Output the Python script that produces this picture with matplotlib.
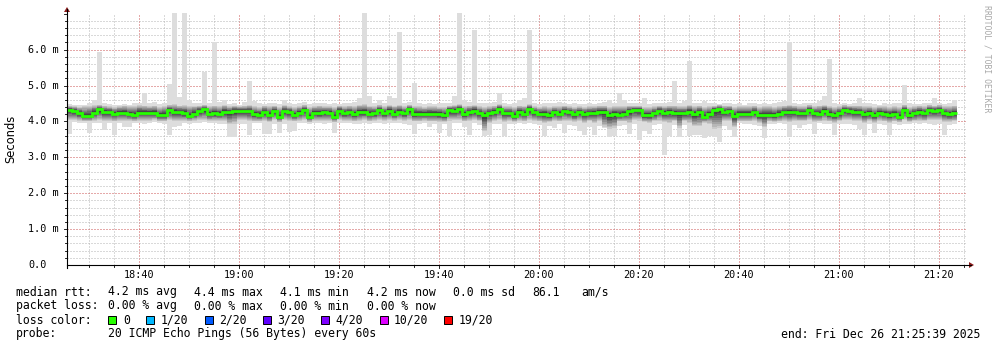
import numpy as np
import matplotlib
matplotlib.use("Agg")
import matplotlib.pyplot as plt
from matplotlib.patches import Rectangle, Polygon
from matplotlib.lines import Line2D
import matplotlib.transforms as mtrans

plt.rcParams['lines.scale_dashes'] = False

# ---------------- data (ms), one bin per minute starting 18:25:39 ----------------
T0 = 25.65          # minutes after 18:00  (18:25:39)
T_END = 205.65      # 21:25:39
Y_TOP = 7.02

rtt_median = [
 4.32,4.30,4.23,4.15,4.15,4.24,4.34,4.27,4.27,4.21,4.24,4.24,4.20,4.18,4.24,4.24,4.24,4.24,4.17,4.17,4.32,4.26,4.26,4.23,4.16,4.21,
 4.30,4.34,4.20,4.23,4.21,4.27,4.26,4.30,4.30,4.28,4.28,4.20,4.18,4.26,4.18,4.29,4.13,4.29,4.27,4.17,4.24,4.32,4.12,4.24,4.23,4.25,
 4.24,4.13,4.30,4.23,4.25,4.20,4.26,4.26,4.21,4.23,4.32,4.23,4.30,4.21,4.27,4.23,4.34,4.20,4.21,4.21,4.22,4.21,4.21,4.17,4.32,
 4.30,4.35,4.20,4.26,4.30,4.23,4.17,4.23,4.27,4.35,4.23,4.23,4.15,4.27,4.21,4.35,4.26,4.21,4.21,4.17,4.25,4.21,4.29,4.25,4.20,4.25,
 4.21,4.23,4.24,4.27,4.27,4.17,4.21,4.17,4.21,4.29,4.32,4.32,4.17,4.17,4.23,4.30,4.24,4.27,4.23,4.23,4.23,4.27,4.21,4.26,4.13,4.20,
 4.32,4.34,4.26,4.29,4.15,4.21,4.21,4.21,4.26,4.17,4.19,4.19,4.17,4.22,4.26,4.26,4.26,4.23,4.23,4.32,4.23,4.22,4.30,4.20,4.17,4.23,
 4.32,4.30,4.27,4.25,4.20,4.24,4.17,4.24,4.21,4.18,4.21,4.13,4.32,4.17,4.23,4.27,4.23,4.32,4.30,4.32,4.23,4.20,4.23]

rtt_max = [
 4.48,4.47,4.45,4.46,4.52,4.60,5.93,4.50,4.48,4.45,4.46,4.48,4.47,4.50,4.52,4.78,4.50,4.55,4.48,4.50,5.05,7.10,4.68,7.10,4.60,4.50,
 4.50,5.39,4.52,6.20,4.55,4.60,4.48,4.50,4.47,4.55,5.13,4.58,4.50,4.48,4.52,4.50,4.48,4.60,4.50,4.48,4.52,4.55,4.48,4.50,4.52,4.50,
 4.48,4.50,4.48,4.50,4.52,4.55,4.64,7.10,4.71,4.52,4.60,4.50,4.72,4.64,6.49,4.50,4.55,5.08,4.50,4.48,4.50,4.48,4.52,4.50,4.52,
 4.71,7.10,4.60,4.55,6.55,4.50,4.52,4.50,4.55,4.80,4.50,4.48,4.50,4.60,4.65,6.55,4.50,4.48,4.50,4.50,4.52,4.55,4.50,4.48,4.50,4.48,
 4.48,4.50,4.48,4.52,4.55,4.60,4.50,4.80,4.60,4.52,4.50,4.50,4.64,4.48,4.50,4.52,4.50,4.55,5.13,4.50,4.58,5.68,4.50,4.52,4.56,4.50,
 4.50,4.48,4.52,4.50,4.48,4.50,4.46,4.50,4.52,4.48,4.50,4.48,4.50,4.55,4.58,6.20,4.50,4.48,4.50,4.52,4.50,4.58,4.71,5.74,4.50,4.48,
 4.50,4.48,4.52,4.64,4.50,4.50,4.48,4.46,4.50,4.48,4.50,4.52,5.02,4.50,4.48,4.48,4.50,4.52,4.64,4.50,4.48,4.50,4.60]

rtt_min = [
 3.65,3.97,3.96,3.95,3.67,3.95,3.95,3.76,3.96,3.61,3.95,3.84,3.84,3.96,3.95,3.93,3.96,3.97,3.95,3.93,3.61,3.85,3.88,3.95,3.92,3.95,
 3.95,3.97,3.96,3.95,3.93,3.92,3.56,3.56,3.93,3.92,3.61,3.95,3.95,3.65,3.65,3.92,3.67,3.94,3.70,3.72,3.95,3.96,3.94,3.95,3.95,3.93,
 3.95,3.67,3.95,3.96,3.95,3.94,3.93,3.95,3.92,3.95,3.95,3.93,3.95,3.96,3.95,3.94,3.90,3.64,3.93,3.95,3.85,3.92,3.67,3.92,3.60,
 3.95,3.96,3.85,3.62,3.95,3.90,3.59,3.62,3.92,3.93,3.59,3.94,3.92,3.95,3.93,3.95,3.92,3.90,3.59,3.88,3.81,3.92,3.67,3.90,3.88,3.73,
 3.62,3.85,3.61,3.88,3.81,3.57,3.59,3.88,3.90,3.65,3.92,3.48,3.73,3.65,3.90,3.92,3.06,3.59,3.90,3.57,3.90,3.59,3.62,3.62,3.55,3.59,
 3.56,3.43,3.88,3.76,3.57,3.95,3.92,3.93,3.90,3.88,3.55,3.92,3.93,3.95,3.92,3.59,3.90,3.83,3.90,3.93,3.65,3.95,3.92,3.93,3.62,3.92,
 3.92,3.93,3.90,3.78,3.62,3.92,3.67,3.93,3.90,3.61,3.92,3.90,3.92,3.93,3.95,3.93,3.95,3.92,3.90,3.92,3.62,3.90,3.92]

# inner smoke envelope (roughly 2nd/3rd fastest and slowest pings)
rtt_inner_hi = [
 4.44,4.42,4.40,4.42,4.44,4.46,4.46,4.44,4.42,4.40,4.42,4.44,4.42,4.44,4.46,4.44,4.42,4.44,4.40,4.42,4.46,4.48,4.44,4.46,4.42,4.44,
 4.44,4.46,4.42,4.44,4.42,4.46,4.42,4.44,4.42,4.44,4.46,4.42,4.40,4.44,4.42,4.44,4.40,4.46,4.42,4.40,4.42,4.46,4.40,4.42,4.44,4.42,
 4.42,4.40,4.44,4.42,4.44,4.42,4.46,4.48,4.44,4.42,4.46,4.42,4.46,4.44,4.46,4.42,4.46,4.44,4.42,4.40,4.42,4.42,4.40,4.40,4.44,
 4.46,4.48,4.42,4.44,4.46,4.42,4.40,4.42,4.44,4.48,4.42,4.42,4.40,4.44,4.44,4.48,4.42,4.40,4.42,4.40,4.42,4.42,4.44,4.42,4.40,4.42,
 4.40,4.42,4.42,4.44,4.44,4.40,4.42,4.42,4.42,4.44,4.44,4.44,4.40,4.40,4.42,4.44,4.42,4.44,4.44,4.42,4.42,4.46,4.42,4.44,4.40,4.42,
 4.44,4.46,4.44,4.44,4.40,4.42,4.42,4.42,4.44,4.40,4.42,4.42,4.40,4.42,4.44,4.46,4.44,4.42,4.42,4.46,4.42,4.44,4.46,4.44,4.40,4.42,
 4.46,4.44,4.44,4.44,4.42,4.42,4.40,4.42,4.42,4.40,4.42,4.40,4.46,4.40,4.42,4.44,4.42,4.46,4.44,4.46,4.42,4.42,4.44]

rtt_inner_lo = [
 4.04,4.04,4.02,4.00,4.00,4.02,4.04,4.02,4.02,4.00,4.02,4.02,4.02,4.00,4.02,4.02,4.02,4.04,4.00,4.00,4.04,4.02,4.02,4.02,4.00,4.02,
 4.04,4.04,4.02,4.02,4.02,4.02,3.92,3.94,4.04,4.04,4.02,4.00,4.00,4.02,3.98,4.04,3.98,4.04,4.02,4.00,4.02,4.04,3.98,4.02,4.02,4.02,
 4.02,3.98,4.04,4.02,4.02,4.00,4.02,4.04,4.00,4.02,4.04,4.02,4.04,4.02,4.04,4.02,4.04,4.00,4.00,4.02,4.00,4.00,3.98,3.98,4.02,
 4.04,4.04,4.00,4.00,4.04,4.00,3.72,3.96,4.02,4.04,3.98,4.02,3.98,4.02,4.00,4.04,4.02,4.00,3.96,3.98,4.00,4.00,4.02,4.00,3.98,4.00,
 3.96,4.00,3.96,4.00,3.84,3.80,3.82,4.00,4.00,3.96,4.04,4.02,3.98,3.96,4.00,4.02,3.98,3.96,4.00,3.82,4.00,3.96,3.86,3.86,3.96,3.94,
 3.80,3.82,4.02,4.00,3.84,4.00,4.00,4.00,4.02,3.96,3.84,4.00,3.98,4.00,4.02,3.98,4.02,4.00,4.00,4.04,3.98,4.00,4.02,4.00,3.96,4.00,
 4.04,4.04,4.02,4.00,3.96,4.00,3.96,4.02,4.00,3.96,4.00,3.98,4.04,3.98,4.00,4.02,4.00,4.04,4.04,4.04,3.98,3.98,4.00]

x_tick_labels = ['18:40', '19:00', '19:20', '19:40', '20:00', '20:20', '20:40', '21:00', '21:20']
y_tick_values = [0, 1, 2, 3, 4, 5, 6]
y_tick_labels = ['0.0', '1.0 m', '2.0 m', '3.0 m', '4.0 m', '5.0 m', '6.0 m']

loss_labels = ['0', '1/20', '2/20', '3/20', '4/20', '10/20', '19/20']
loss_colors = ['#26ff00', '#00b8ff', '#0059ff', '#5e00ff', '#7e00ff', '#dd00ff', '#ff0000']

# ---------------- figure ----------------
W, H = 997, 347
fig = plt.figure(figsize=(W / 100, H / 100), dpi=100)
fig.patch.set_facecolor('white')

def fx(px):
    return px / W

def fy(py):
    return 1 - py / H

AX_L, AX_R, AX_T, AX_B = 67, 967, 13, 265
ax = fig.add_axes([fx(AX_L), fy(AX_B), fx(AX_R) - fx(AX_L), fy(AX_T) - fy(AX_B)])
ax.set_xlim(T0, T_END)
ax.set_ylim(0, Y_TOP)
ax.axis('off')

MONO = 'DejaVu Sans Mono'

# grid (dotted: 1px on, 2px off)
dots = (0, (0.72, 1.44))
minor_col = '#b4b4b4'
major_col = '#cc5555'
x_major = [int(s[:2]) * 60 + int(s[3:]) - 18 * 60 for s in x_tick_labels]
for m in range(30, 206, 5):
    if m not in x_major:
        ax.axvline(m, color=minor_col, lw=0.72, ls=dots, zorder=1)
for m in x_major:
    ax.axvline(m, color=major_col, lw=0.72, ls=dots, zorder=1)
for k in range(1, 36):
    v = k * 0.2
    if k % 5 != 0:
        ax.axhline(v, color=minor_col, lw=0.72, ls=dots, zorder=1)
for v in y_tick_values[1:]:
    ax.axhline(v, color=major_col, lw=0.72, ls=dots, zorder=1)

# smoke
med = np.array(rtt_median)
mx = np.array(rtt_max)
mn = np.array(rtt_min)
ihi = np.maximum(np.array(rtt_inner_hi), med)
ilo = np.minimum(np.array(rtt_inner_lo), med)
n = len(med)
xe = T0 + np.arange(n + 1)

def st(a):
    return np.append(a, a[-1])

grays = [221 - 19 * i for i in range(10)]
def g(v):
    return '#%02x%02x%02x' % (v, v, v)

ax.fill_between(xe, st(np.minimum(mn, ilo)), st(np.maximum(mx, ihi)), step='post',
                color=g(grays[0]), lw=0, zorder=2)
for i in range(1, 10):
    f = (i - 1) / 9.0
    lo = ilo + (med - ilo) * f
    hi = ihi - (ihi - med) * f
    ax.fill_between(xe, st(lo), st(hi), step='post', color=g(grays[i]), lw=0, zorder=2 + i * 0.01)

ax.plot(xe, st(med), drawstyle='steps-post', color='#26ff00', lw=2.0, zorder=5,
        solid_capstyle='butt', solid_joinstyle='miter')

# axes lines & arrows
axis_col = '#000000'
fig.add_artist(Line2D([fx(AX_L), fx(971)], [fy(AX_B), fy(AX_B)], color=axis_col, lw=0.8))
fig.add_artist(Line2D([fx(AX_L), fx(AX_L)], [fy(AX_B + 3), fy(9)], color=axis_col, lw=0.8))
arrow_col = '#8b1a1a'
fig.add_artist(Polygon([(fx(969), fy(AX_B - 3)), (fx(969), fy(AX_B + 3)), (fx(974), fy(AX_B))],
                       closed=True, color=arrow_col, lw=0))
fig.add_artist(Polygon([(fx(AX_L - 3), fy(12)), (fx(AX_L + 3), fy(12)), (fx(AX_L), fy(7))],
                       closed=True, color=arrow_col, lw=0))

# ticks
tx = mtrans.blended_transform_factory(ax.transData, fig.transFigure)
ty = mtrans.blended_transform_factory(fig.transFigure, ax.transData)
for m in range(30, 206, 5):
    ln = 3 if m in x_major else 2
    fig.add_artist(Line2D([m, m], [fy(AX_B), fy(AX_B + ln)], transform=tx, color=axis_col, lw=0.6))
for k in range(1, 36):
    v = k * 0.2
    ln = 3 if k % 5 == 0 else 2
    fig.add_artist(Line2D([fx(AX_L - ln), fx(AX_L)], [v, v], transform=ty, color=axis_col, lw=0.6))

# tick labels
for m, lab in zip(x_major, x_tick_labels):
    fig.text(m, fy(275), lab, transform=tx, ha='center', va='center', family=MONO, fontsize=7.3)
for v, lab in zip(y_tick_values, y_tick_labels):
    fig.text(fx(28), v, lab, transform=ty, ha='left', va='center', family=MONO, fontsize=7.3)

fig.text(fx(11), fy(139), 'Seconds', rotation=90, ha='center', va='center',
         family='DejaVu Sans', fontsize=8.3)
fig.text(fx(987), fy(59), 'RRDTOOL / TOBI OETIKER', rotation=270, ha='center', va='center',
         family=MONO, fontsize=5.9, color='#a8a8a8')

# legend
LS = 8.3
rows = [295.5, 309.5, 323.5, 337.5]
row1 = [(16, 'median rtt:'), (108, '4.2 ms avg'), (194, '4.4 ms max'), (280, '4.1 ms min'),
        (367, '4.2 ms now'), (453, '0.0 ms sd'), (532, '86.1'), (581, 'am/s')]
row2 = [(16, 'packet loss:'), (108, '0.00 % avg'), (194, '0.00 % max'), (280, '0.00 % min'),
        (367, '0.00 % now')]
for x, s in row1:
    fig.text(fx(x), fy(rows[0]), s, ha='left', va='baseline', family=MONO, fontsize=LS)
for x, s in row2:
    fig.text(fx(x), fy(rows[1]), s, ha='left', va='baseline', family=MONO, fontsize=LS)

fig.text(fx(16), fy(rows[2]), 'loss color:', ha='left', va='baseline', family=MONO, fontsize=LS)
box_x = [108, 146, 204.5, 262.7, 320.6, 380, 443.7]
lab_x = [123, 160.7, 219, 277, 335.3, 393.7, 459]
for bx, lx, lab, col in zip(box_x, lab_x, loss_labels, loss_colors):
    fig.add_artist(Rectangle((fx(bx), fy(323.5)), fx(8) - fx(0), fy(315.5) - fy(323.5),
                             facecolor=col, edgecolor='black', lw=0.7))
    fig.text(fx(lx), fy(rows[2]), lab, ha='left', va='baseline', family=MONO, fontsize=LS)

fig.text(fx(16), fy(rows[3]), 'probe:', ha='left', va='baseline', family=MONO, fontsize=LS)
fig.text(fx(108), fy(rows[3]), '20 ICMP Echo Pings (56 Bytes) every 60s', ha='left', va='baseline',
         family=MONO, fontsize=LS)
fig.text(fx(980), fy(rows[3]), 'end: Fri Dec 26 21:25:39 2025', ha='right', va='baseline',
         family=MONO, fontsize=LS)

fig.savefig('out.png', dpi=100, facecolor='white')
